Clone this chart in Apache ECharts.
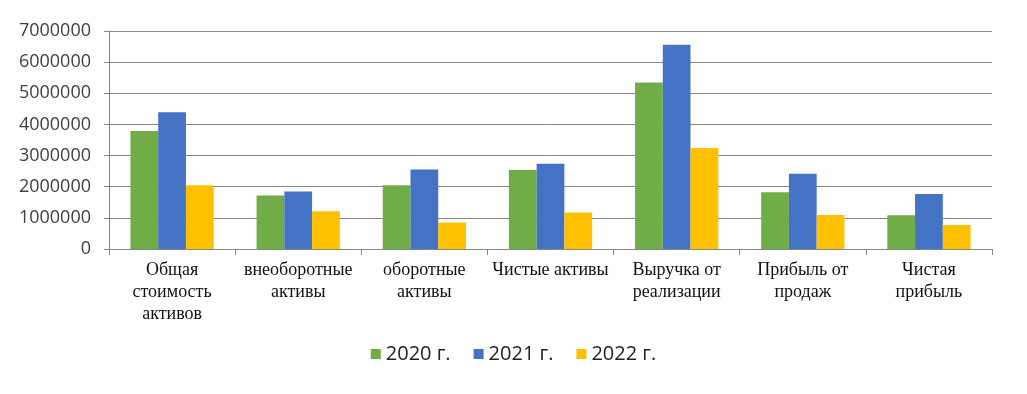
<!DOCTYPE html>
<html>
<head>
<meta charset="utf-8">
<script src="https://cdn.jsdelivr.net/npm/echarts@6/dist/echarts.min.js"></script>
<style>
  html, body { margin: 0; padding: 0; background: #fff; }
  #chart-container { width: 1027px; height: 394px; }
</style>
</head>
<body>
<div id="chart-container"></div>
<script>
var categories = [
  'Общая\nстоимость\nактивов',
  'внеоборотные\nактивы',
  'оборотные\nактивы',
  'Чистые активы',
  'Выручка от\nреализации',
  'Прибыль от\nпродаж',
  'Чистая\nприбыль'
];
var values2020 = [3790000, 1720000, 2050000, 2540000, 5350000, 1820000, 1080000];
var values2021 = [4390000, 1850000, 2550000, 2740000, 6560000, 2420000, 1770000];
var values2022 = [2050000, 1210000, 850000, 1170000, 3240000, 1090000, 770000];
var yTicks = [0, 7000000, 1000000]; // min, max, step

var dom = document.getElementById('chart-container');
var myChart = echarts.init(dom, null, { renderer: 'canvas' });

var gridColor = '#878787';

var option = {
  animation: false,
  color: ['#70ad47', '#4472c4', '#ffc000'],
  grid: { left: 109, right: 35, top: 31, bottom: 145 },
  legend: {
    bottom: 25,
    left: 'center',
    itemWidth: 10,
    itemHeight: 10,
    itemGap: 23,
    icon: 'rect',
    textStyle: { fontFamily: 'Open Sans', fontSize: 20, color: '#222' },
    data: ['2020 г.', '2021 г.', '2022 г.']
  },
  xAxis: {
    type: 'category',
    data: categories,
    axisLine: { lineStyle: { color: gridColor } },
    axisTick: { show: true, length: 6, lineStyle: { color: gridColor } },
    axisLabel: {
      interval: 0,
      margin: 10,
      fontFamily: 'Liberation Serif',
      fontSize: 18,
      lineHeight: 22,
      color: '#111'
    }
  },
  yAxis: {
    type: 'value',
    min: yTicks[0],
    max: yTicks[1],
    interval: yTicks[2],
    axisLine: { show: true, lineStyle: { color: gridColor } },
    axisTick: { show: true, length: 5, lineStyle: { color: gridColor } },
    splitLine: { lineStyle: { color: gridColor } },
    axisLabel: {
      margin: 18,
      fontFamily: 'Open Sans',
      fontSize: 18,
      color: '#404040',
      formatter: function (v) { return String(v); }
    }
  },
  series: [
    { name: '2020 г.', type: 'bar', data: values2020, barGap: 0, barCategoryGap: '34%' },
    { name: '2021 г.', type: 'bar', data: values2021, barGap: 0, barCategoryGap: '34%' },
    { name: '2022 г.', type: 'bar', data: values2022, barGap: 0, barCategoryGap: '34%' }
  ]
};

myChart.setOption(option);
window.addEventListener('resize', myChart.resize);
</script>
</body>
</html>
